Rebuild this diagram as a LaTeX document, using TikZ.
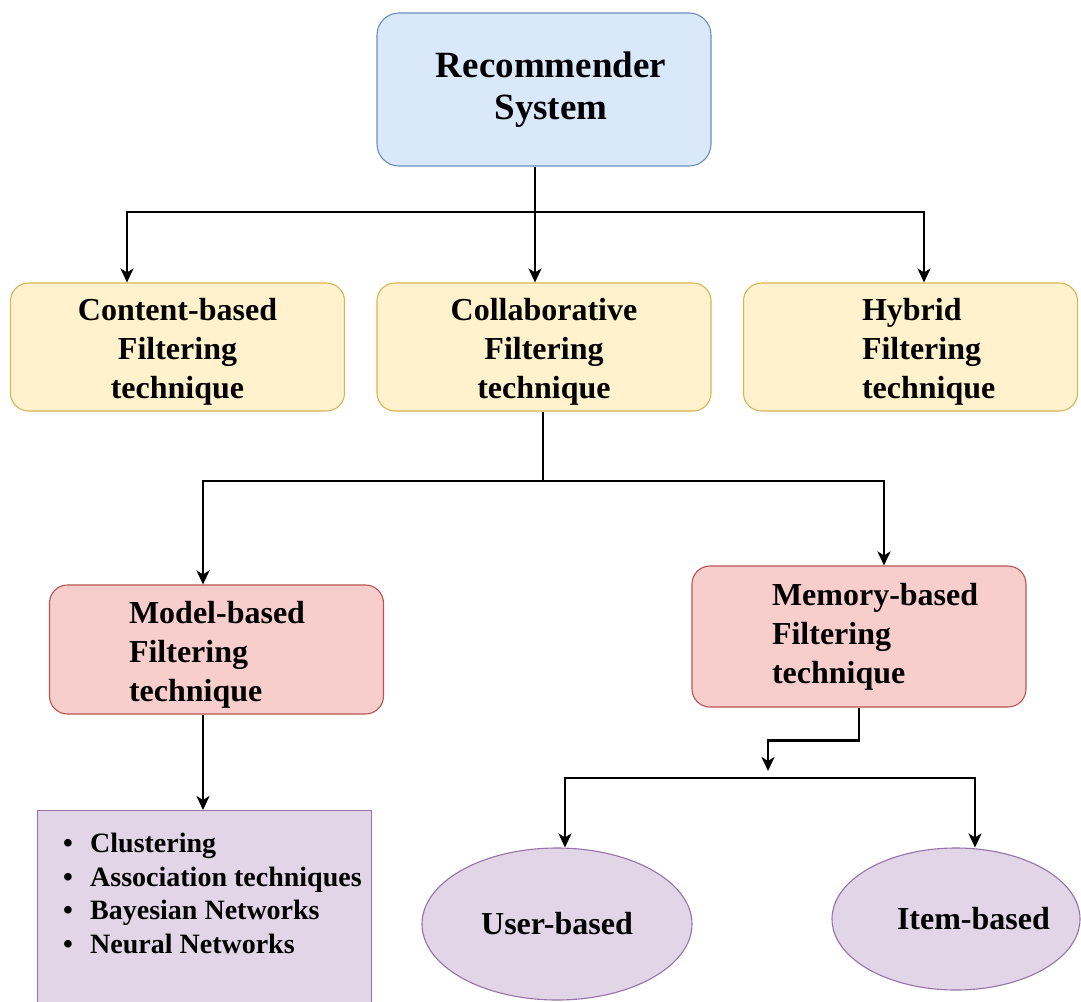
\documentclass[tikz,border=0pt]{standalone}
\usepackage{fontspec}
\setmainfont{Liberation Serif}
\usetikzlibrary{arrows.meta,shapes.geometric}
\hyphenpenalty=10000
\exhyphenpenalty=10000
\definecolor{rsfill}{HTML}{DAE8FC}
\definecolor{rsline}{HTML}{6C8EBF}
\definecolor{cffill}{HTML}{FFF2CC}
\definecolor{cfline}{HTML}{D6B656}
\definecolor{mbfill}{HTML}{F8CECC}
\definecolor{mbline}{HTML}{B85450}
\definecolor{lsfill}{HTML}{E1D5E7}
\definecolor{lsline}{HTML}{9673A6}

\begin{document}
\begin{tikzpicture}[x=1pt, y=-1pt,
    box/.style={draw, rounded corners=18pt, line width=1.1pt, align=center,
      minimum width=334pt, minimum height=128pt,
      font=\bfseries\fontsize{32}{39}\selectfont},
    lowtext/.style={execute at begin node=\rule{0pt}{32pt}},
    rsbox/.style={box, draw=rsline, fill=rsfill, minimum height=153pt,
      rounded corners=22pt, font=\bfseries\fontsize{37}{42}\selectfont},
    cfbox/.style={box, lowtext, draw=cfline, fill=cffill, text width=210pt},
    mbbox/.style={box, draw=mbline, fill=mbfill, align=left},
    lsbox/.style={draw=lsline, fill=lsfill, line width=1.1pt},
    oval/.style={ellipse, lsbox, font=\bfseries\fontsize{32}{39}\selectfont},
    link/.style={line width=2.6pt},
    arr/.style={link, -{Stealth[length=14pt, width=13pt, inset=4pt]}}]
    \clip (0,0) rectangle (1081,1001);
    \node[rsbox] (recsys) at (544,89.5) {\hspace*{14pt}Recommender\\\hspace*{14pt}System};
    \node[cfbox] (content) at (177.5,347) {Content-based\\Filtering\\technique};
    \node[cfbox] (collab) at (544,347) {Collaborative\\Filtering\\technique};
    \node[cfbox, text width=97pt, align=left] (hybrid) at (910.5,347) {Hybrid\\Filtering\\technique};
    \node[mbbox, lowtext, text width=175pt, minimum height=129pt] (model) at (216.5,649.5) {Model-based\\Filtering\\technique};
    \node[mbbox, text width=174pt, minimum height=141pt] (memory) at (859,636.5) {Memory-based\\Filtering\\technique};
    \node[lsbox, anchor=north west, minimum width=334pt, minimum height=220pt] (algos) at (37,810) {};
    \node[anchor=north west, inner sep=0pt, align=left, font=\bfseries\fontsize{28}{33.5}\selectfont] (algolist) at (63,833)
      {\makebox[27pt][l]{\textbullet}Clustering\\
       \makebox[27pt][l]{\textbullet}Association techniques\\
       \makebox[27pt][l]{\textbullet}Bayesian Networks\\
       \makebox[27pt][l]{\textbullet}Neural Networks};
    \node[oval, minimum width=270pt, minimum height=152pt] (user) at (557,924) {User-based};
    \node[oval, minimum width=248pt, minimum height=142pt, text width=118pt, align=left] (item) at (956,919) {Item-based};

    \coordinate (rsfork) at (535,212);
    \draw[link] (recsys.south -| rsfork) -- (rsfork);
    \draw[arr] (rsfork) -| ([xshift=-50.5pt]content.north);
    \draw[arr] (rsfork) -- (collab.north -| rsfork);
    \draw[arr] (rsfork) -| ([xshift=13.5pt]hybrid.north);

    \coordinate (cffork) at (543,481);
    \draw[link] (collab.south -| cffork) -- (cffork);
    \draw[arr] (cffork) -| ([xshift=-13.5pt]model.north);
    \draw[arr] (cffork) -| ([xshift=25pt]memory.north);
    \draw[arr] ([xshift=-13.5pt]model.south) coordinate (mdrop) -- (mdrop |- algos.north);

    \coordinate (mtip) at (768,771);
    \coordinate (mfork) at (768,778);
    \draw[arr] (memory.south) -- ++(0,33) -| (mtip);
    \draw[arr] (mfork) -| ([xshift=8pt]user.north);
    \draw[arr] (mfork) -| ([xshift=19pt]item.north);
\end{tikzpicture}
\end{document}
